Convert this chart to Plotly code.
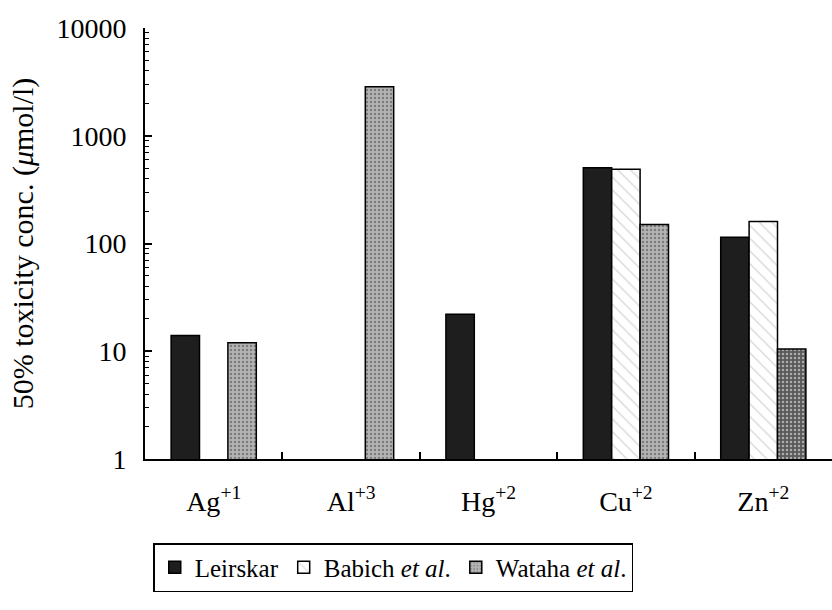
import plotly.graph_objects as go

categories = ["Ag", "Al", "Hg", "Cu", "Zn"]
tick_labels = ["Ag<sup>+1</sup>", "Al<sup>+3</sup>", "Hg<sup>+2</sup>", "Cu<sup>+2</sup>", "Zn<sup>+2</sup>"]
leirskar = [14, None, 22, 505, 114]
babich = [None, None, None, 490, 160]
wataha = [12, 2850, None, 150, 10.5]
wataha_colors = ["#b4b4b4", "#b4b4b4", "#b4b4b4", "#b4b4b4", "#5a5a5a"]

y_ticks = [1, 10, 100, 1000, 10000]
y_tick_text = ["1", "10", "100", "1000", "10000"]

FONT = "Liberation Serif, Times New Roman, serif"

fig = go.Figure()
fig.add_trace(go.Bar(
    x=categories, y=leirskar, name="Leirskar",
    marker=dict(color="#1e1e1e", line=dict(color="black", width=1.5)),
))
fig.add_trace(go.Bar(
    x=categories, y=babich, name="Babich <i>et al</i>.",
    marker=dict(color="white", line=dict(color="black", width=1.5),
                pattern=dict(shape="\\", fgcolor="#b0b0b0", bgcolor="white",
                             size=9, solidity=0.15)),
))
fig.add_trace(go.Bar(
    x=categories, y=wataha, name="Wataha <i>et al</i>.",
    marker=dict(color=wataha_colors, line=dict(color="black", width=1.5),
                pattern=dict(shape=".", fgcolor="#6a6a6a", bgcolor=wataha_colors,
                             size=4, solidity=0.3)),
))

fig.update_layout(
    width=832, height=610,
    margin=dict(l=145, r=0, t=28, b=151),
    paper_bgcolor="white", plot_bgcolor="white",
    barmode="group", bargap=0.38, bargroupgap=0,
    font=dict(family=FONT, size=28, color="black"),
    showlegend=True,
    legend=dict(
        orientation="h", x=0.012, xanchor="left", y=-0.195, yanchor="top",
        bordercolor="black", borderwidth=1.5, bgcolor="white",
        font=dict(family=FONT, size=25, color="black"),
        traceorder="normal", itemwidth=30,
    ),
    xaxis=dict(
        tickmode="array", tickvals=categories, ticktext=tick_labels,
        range=[-0.5, 4.5], tickson="boundaries",
        ticks="inside", ticklen=7, tickwidth=1.5, tickcolor="black",
        showline=True, linecolor="black", linewidth=2,
        showgrid=False, zeroline=False, ticklabelstandoff=16,
        tickfont=dict(family=FONT, size=28),
    ),
    yaxis=dict(
        type="log", range=[0, 4],
        tickmode="array", tickvals=y_ticks, ticktext=y_tick_text,
        ticks="inside", ticklen=7, tickwidth=1.5, tickcolor="black",
        minor=dict(ticks="inside", ticklen=4, tickwidth=1, tickcolor="black",
                   dtick="D1", showgrid=False),
        showline=True, linecolor="black", linewidth=2,
        showgrid=False, zeroline=False, ticklabelstandoff=11,
        tickfont=dict(family=FONT, size=28),
        title=dict(text="50% toxicity conc. (<i>μ</i>mol/l)", standoff=14,
                   font=dict(family=FONT, size=30)),
    ),
)

fig.write_html("out.html", config={"displayModeBar": False},
               post_script="document.body.style.margin='0';")
